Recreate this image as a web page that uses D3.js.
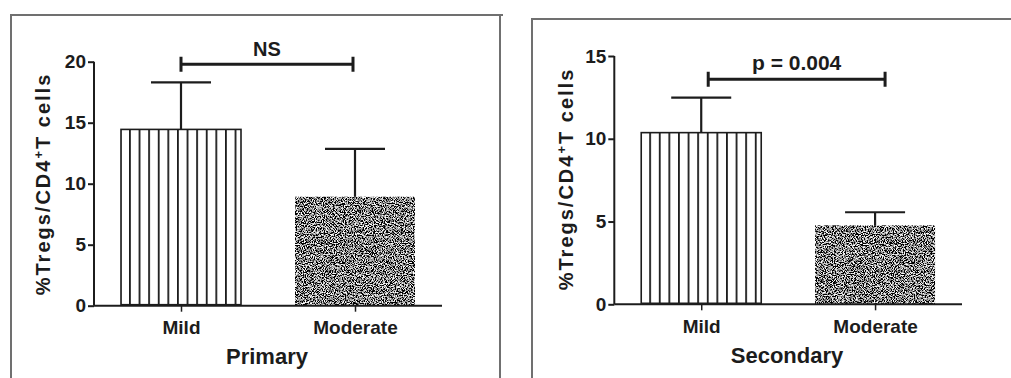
<!DOCTYPE html>
<html>
<head>
<meta charset="utf-8">
<script src="https://cdn.jsdelivr.net/npm/d3@7"></script>
<style>
  body { margin: 0; background: #fff; }
  svg { display: block; font-family: "Liberation Sans", Arial, sans-serif; font-weight: bold; }
</style>
</head>
<body>
<div id="chart"></div>
<script>
// data
const categories = ['Mild', 'Moderate'];
const primaryMeans = [14.45, 8.93];
const primaryErrTop = [18.3, 12.85];
const secondaryMeans = [10.37, 4.77];
const secondaryErrTop = [12.48, 5.56];
const primaryTicks = [0, 5, 10, 15, 20];
const secondaryTicks = [0, 5, 10, 15];
const primaryNote = 'NS';
const secondaryNote = 'p = 0.004';

const W = 1011, H = 378;
const ink = '#1c1c1c';

const svg = d3.select('#chart').append('svg')
  .attr('width', W)
  .attr('height', H);

const defs = svg.append('defs');

// speckled fill for the "Moderate" bars
const f = defs.append('filter')
  .attr('id', 'speckle')
  .attr('x', 0).attr('y', 0).attr('width', 1).attr('height', 1)
  .attr('filterUnits', 'objectBoundingBox');
f.append('feTurbulence')
  .attr('type', 'fractalNoise')
  .attr('baseFrequency', 0.9)
  .attr('numOctaves', 2)
  .attr('seed', 7)
  .attr('result', 'noise');
f.append('feColorMatrix')
  .attr('in', 'noise')
  .attr('type', 'matrix')
  .attr('values', '4 0 0 0 -1.75  4 0 0 0 -1.75  4 0 0 0 -1.75  0 0 0 0 1')
  .attr('result', 'gray');
f.append('feComposite')
  .attr('in', 'gray')
  .attr('in2', 'SourceGraphic')
  .attr('operator', 'in');

// frames around the two panels
const frame = svg.append('g')
  .attr('fill', 'none')
  .attr('stroke', '#707070')
  .attr('stroke-width', 2);
frame.append('path').attr('d', 'M11,378V15H503M500,15V378');
frame.append('path').attr('d', 'M532,378V19H1011');

function drawPanel(opts) {
  const g = svg.append('g');

  const x = d3.scalePoint()
    .domain(categories)
    .range([opts.left, opts.right])
    .padding(0.5);

  const y = d3.scaleLinear()
    .domain([0, opts.yMax])
    .range([opts.bottom, opts.top]);

  const barW = 120;

  // stripes pattern for the "Mild" bar
  const pat = defs.append('pattern')
    .attr('id', opts.id + '-stripes')
    .attr('patternUnits', 'userSpaceOnUse')
    .attr('x', x('Mild') - barW / 2 + 8)
    .attr('y', 0)
    .attr('width', 9.6)
    .attr('height', 10);
  pat.append('rect').attr('width', 9.6).attr('height', 10).attr('fill', '#fff');
  pat.append('rect').attr('x', 0).attr('width', 1.8).attr('height', 10).attr('fill', ink);

  // error bars (upper whisker only), drawn under the bars
  const err = g.append('g')
    .attr('stroke', ink)
    .attr('stroke-width', 2.2);
  categories.forEach((c, i) => {
    err.append('line')
      .attr('x1', x(c)).attr('x2', x(c))
      .attr('y1', y(opts.means[i])).attr('y2', y(opts.errTop[i]));
    err.append('line')
      .attr('x1', x(c) - 30).attr('x2', x(c) + 30)
      .attr('y1', y(opts.errTop[i])).attr('y2', y(opts.errTop[i]));
  });

  // bars
  g.append('rect')
    .attr('x', x('Mild') - barW / 2)
    .attr('y', y(opts.means[0]))
    .attr('width', barW)
    .attr('height', y(0) - y(opts.means[0]) - 1)
    .attr('fill', 'url(#' + opts.id + '-stripes)')
    .attr('stroke', ink)
    .attr('stroke-width', 1.6);

  g.append('rect')
    .attr('x', x('Moderate') - barW / 2)
    .attr('y', y(opts.means[1]))
    .attr('width', barW)
    .attr('height', y(0) - y(opts.means[1]))
    .attr('fill', '#888')
    .attr('filter', 'url(#speckle)');

  const font = '"Liberation Sans", Arial, sans-serif';

  // y axis
  const yAxis = g.append('g')
    .attr('transform', 'translate(' + opts.left + ',0)')
    .call(d3.axisLeft(y).tickValues(opts.ticks).tickSize(6).tickPadding(2).tickFormat(d3.format('d')));
  yAxis.select('.domain').attr('stroke', ink).attr('stroke-width', 2).attr('d', 'M0,' + y(0) + 'V' + y(opts.yMax));
  yAxis.selectAll('.tick line').attr('stroke', ink).attr('stroke-width', 2);
  yAxis.selectAll('.tick text')
    .attr('fill', ink)
    .style('font-size', '19px')
    .style('font-weight', 'bold')
    .style('font-family', font);

  // x axis
  const xAxis = g.append('g')
    .attr('transform', 'translate(0,' + y(0) + ')')
    .call(d3.axisBottom(x).tickSize(6).tickPadding(9));
  xAxis.select('.domain').attr('stroke', ink).attr('stroke-width', 2).attr('d', 'M' + opts.left + ',0H' + opts.right);
  xAxis.selectAll('.tick line').attr('stroke', ink).attr('stroke-width', 1.5);
  xAxis.selectAll('.tick text')
    .attr('fill', ink)
    .style('font-size', '19px')
    .style('font-weight', 'bold')
    .style('font-family', font);

  // x axis title
  g.append('text')
    .attr('x', opts.titleX)
    .attr('y', opts.titleY)
    .attr('text-anchor', 'middle')
    .attr('fill', ink)
    .style('font-size', '22px')
    .text(opts.title);

  // y axis title
  const yt = g.append('text')
    .attr('transform', 'translate(' + opts.yTitleX + ',' + opts.yTitleY + ') rotate(-90)')
    .attr('text-anchor', 'middle')
    .attr('fill', ink)
    .style('font-size', '20px')
    .style('letter-spacing', '2px');
  yt.append('tspan').text('%Tregs/CD4');
  yt.append('tspan').attr('dy', -7).style('font-size', '13px').text('+');
  yt.append('tspan').attr('dy', 7).text('T cells');

  // significance bracket
  const bx1 = x('Mild') + opts.bracketPad[0];
  const bx2 = x('Moderate') + opts.bracketPad[1];
  const by = y(opts.bracketAt);
  g.append('path')
    .attr('d', 'M' + bx1 + ',' + by + 'H' + bx2 +
      'M' + bx1 + ',' + (by - 7.5) + 'V' + (by + 7.5) +
      'M' + bx2 + ',' + (by - 7.5) + 'V' + (by + 7.5))
    .attr('fill', 'none')
    .attr('stroke', ink)
    .attr('stroke-width', 3);
  g.append('text')
    .attr('x', (bx1 + bx2) / 2)
    .attr('y', by - opts.noteGap)
    .attr('text-anchor', 'middle')
    .attr('fill', ink)
    .style('font-size', opts.noteSize)
    .text(opts.note);
}

drawPanel({
  id: 'p1', left: 94, right: 442, top: 61.7, bottom: 305.7, yMax: 20,
  ticks: primaryTicks, means: primaryMeans, errTop: primaryErrTop,
  title: 'Primary', titleX: 267, titleY: 364,
  yTitleX: 50, yTitleY: 184,
  bracketAt: 19.8, bracketPad: [0, -2], note: primaryNote, noteGap: 8.5, noteSize: '20px'
});

drawPanel({
  id: 'p2', left: 614.3, right: 962, top: 56, bottom: 304.3, yMax: 15,
  ticks: secondaryTicks, means: secondaryMeans, errTop: secondaryErrTop,
  title: 'Secondary', titleX: 787, titleY: 363,
  yTitleX: 573, yTitleY: 179,
  bracketAt: 13.6, bracketPad: [7, 10], note: secondaryNote, noteGap: 9, noteSize: '21px'
});
</script>
</body>
</html>
